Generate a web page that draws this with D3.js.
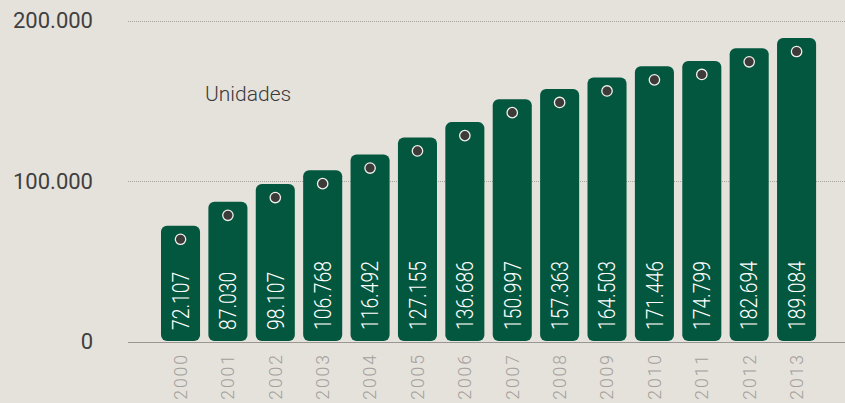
<!DOCTYPE html>
<html><head><meta charset="utf-8">
<script src="https://cdn.jsdelivr.net/npm/d3@7"></script>
<style>
html,body{margin:0;padding:0;background:#e5e2dc;}
svg{display:block;}
</style></head>
<body>
<svg id="chart" width="845" height="403"></svg>
<script>
const years = ["2000","2001","2002","2003","2004","2005","2006","2007","2008","2009","2010","2011","2012","2013"];
const values = [72107,87030,98107,106768,116492,127155,136686,150997,157363,164503,171446,174799,182694,189084];
const yTicks = [0,100000,200000];
const unitLabel = "Unidades";

const fmt = v => d3.format(",")(v).replace(/,/g, ".");

const svg = d3.select("#chart");
const W = 845, H = 403;
svg.append("rect").attr("width", W).attr("height", H).attr("fill", "#e5e2dc");

const x = d3.scaleBand().domain(years).range([137.3, 839.8]).paddingInner(0.176).paddingOuter(0.5);
const y = d3.scaleLinear().domain([0, 200000]).range([341.5, 20.5]);

// gridlines
svg.append("g").selectAll("line").data(yTicks.filter(d => d > 0)).join("line")
  .attr("x1", 128).attr("x2", W)
  .attr("y1", d => Math.round(y(d)) + 0.5).attr("y2", d => Math.round(y(d)) + 0.5)
  .attr("stroke", "#a8a5a0").attr("stroke-width", 1).attr("stroke-dasharray", "1,1");

// baseline
svg.append("line").attr("x1", 128).attr("x2", W)
  .attr("y1", Math.round(y(0)) + 0.5).attr("y2", Math.round(y(0)) + 0.5)
  .attr("stroke", "#9a9792").attr("stroke-width", 1.2);

// y labels
svg.append("g").selectAll("text").data(yTicks).join("text")
  .attr("x", 93).attr("y", d => y(d)).attr("dy", "0.36em")
  .attr("text-anchor", "end")
  .attr("font-family", "Roboto, sans-serif").attr("font-weight", 400)
  .attr("font-size", 22).attr("fill", "#404040")
  .text(d => fmt(d));

// unit label
svg.append("text").attr("x", 205).attr("y", 93).attr("dy", "0.36em")
  .attr("font-family", "Roboto, sans-serif").attr("font-weight", 300)
  .attr("font-size", 21).attr("fill", "#3a3a3a").text(unitLabel);

// bars
const g = svg.append("g");
g.selectAll("rect").data(values).join("rect")
  .attr("x", (d, i) => x(years[i]))
  .attr("y", d => y(d))
  .attr("width", x.bandwidth())
  .attr("height", d => y(0) - y(d) - 0.5)
  .attr("rx", 6).attr("ry", 6)
  .attr("fill", "#03573f");

// dots
g.selectAll("circle").data(values).join("circle")
  .attr("cx", (d, i) => x(years[i]) + x.bandwidth() / 2)
  .attr("cy", d => y(d) + 13.5)
  .attr("r", 5.2)
  .attr("fill", "#3d3b39").attr("stroke", "#f2f0ec").attr("stroke-width", 1.3);

// value labels
g.selectAll("text.val").data(values).join("text").attr("class", "val")
  .attr("transform", (d, i) => `translate(${x(years[i]) + x.bandwidth() / 2},330) rotate(-90) scale(0.84,1)`)
  .attr("dy", "0.36em")
  .attr("text-anchor", "start")
  .attr("font-family", "Roboto, sans-serif").attr("font-weight", 300)
  .attr("font-size", 23).attr("fill", "#ffffff")
  .text(d => fmt(d));

// year labels
svg.append("g").selectAll("text").data(years).join("text")
  .attr("transform", d => `translate(${x(d) + x.bandwidth() / 2},353) rotate(-90)`)
  .attr("dy", "0.36em")
  .attr("text-anchor", "end")
  .attr("font-family", "Roboto, sans-serif").attr("font-weight", 300)
  .attr("font-size", 17.5).attr("letter-spacing", 2).attr("fill", "#a3a09b")
  .text(d => d);
</script>
</body></html>
